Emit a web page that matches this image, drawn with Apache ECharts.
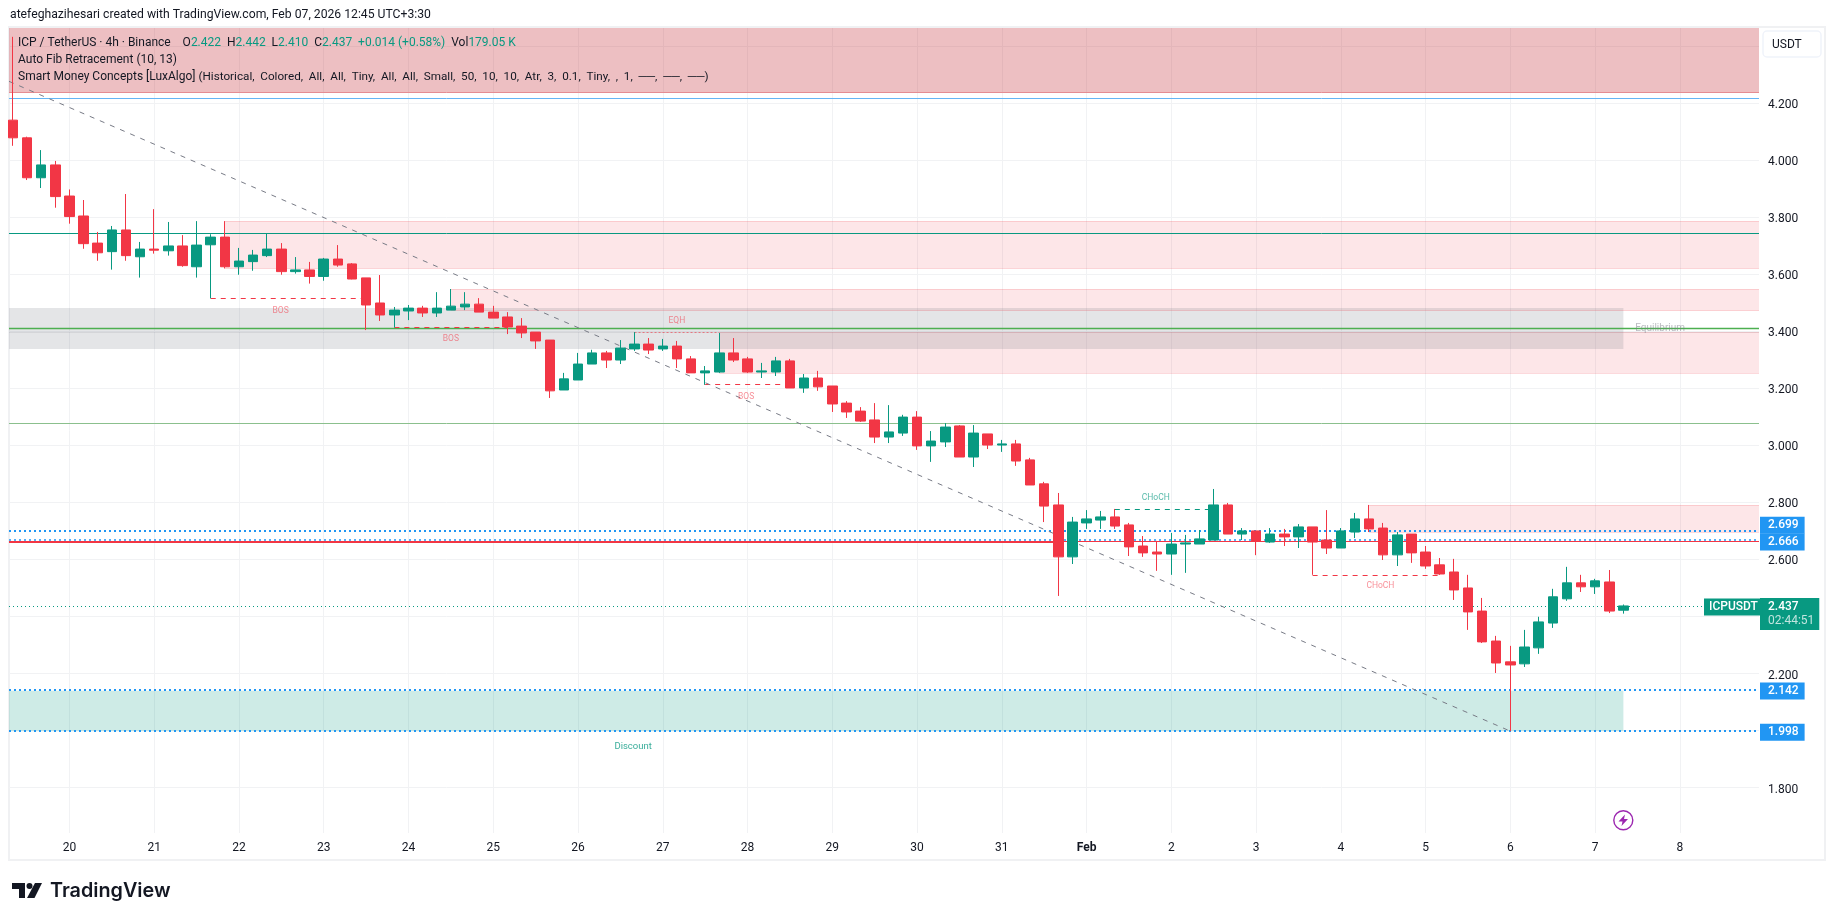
<!DOCTYPE html>
<html>

<head>
	<meta charset="UTF-8">
	<title>ICP / TetherUS</title>
	<style>
		html, body { margin: 0; padding: 0; background: #fff; }
		#chart { width: 1835px; height: 921px; }
	</style>
	<script src="https://cdn.jsdelivr.net/npm/echarts@6/dist/echarts.min.js"></script>
</head>

<body>
	<div id="chart"></div>
	<script>
		// bar index 0 is the first 4h candle of the 20th, six candles a day
		var firstBar = -4;
		var opens = [4.140,4.078,3.938,3.983,3.874,3.804,3.709,3.679,3.755,3.661,3.688,3.682,3.699,3.626,3.703,3.730,3.626,3.644,3.665,3.688,3.609,3.615,3.592,3.653,3.636,3.587,3.499,3.457,3.471,3.481,3.464,3.474,3.485,3.495,3.467,3.450,3.418,3.397,3.369,3.194,3.229,3.285,3.324,3.299,3.338,3.355,3.338,3.348,3.303,3.254,3.257,3.324,3.303,3.257,3.257,3.296,3.201,3.236,3.208,3.148,3.120,3.089,3.029,3.043,3.099,2.998,3.012,3.068,2.959,3.040,3.001,3.005,2.949,2.865,2.791,2.609,2.728,2.738,2.749,2.721,2.647,2.626,2.619,2.654,2.654,2.668,2.791,2.689,2.700,2.661,2.689,2.679,2.714,2.668,2.640,2.696,2.742,2.710,2.616,2.689,2.626,2.581,2.556,2.500,2.419,2.314,2.241,2.234,2.290,2.377,2.462,2.518,2.504,2.521,2.422];
		var highs = [4.432,4.082,4.035,3.997,3.897,3.860,3.748,3.769,3.881,3.713,3.828,3.783,3.737,3.786,3.740,3.786,3.692,3.685,3.741,3.709,3.660,3.643,3.657,3.702,3.639,3.587,3.597,3.485,3.492,3.489,3.537,3.548,3.537,3.516,3.489,3.467,3.446,3.397,3.369,3.254,3.324,3.335,3.331,3.369,3.397,3.376,3.373,3.366,3.313,3.278,3.394,3.376,3.310,3.289,3.310,3.303,3.250,3.261,3.208,3.155,3.134,3.148,3.141,3.107,3.120,3.050,3.078,3.071,3.071,3.040,3.019,3.019,2.956,2.872,2.833,2.749,2.773,2.770,2.777,2.728,2.682,2.665,2.693,2.686,2.703,2.847,2.798,2.710,2.700,2.710,2.707,2.724,2.714,2.773,2.710,2.763,2.791,2.728,2.696,2.689,2.647,2.605,2.602,2.546,2.465,2.332,2.297,2.353,2.399,2.497,2.574,2.546,2.532,2.563,2.442];
		var lows = [4.050,3.930,3.902,3.833,3.777,3.689,3.647,3.616,3.647,3.588,3.672,3.665,3.626,3.588,3.515,3.620,3.598,3.612,3.660,3.598,3.602,3.567,3.577,3.626,3.582,3.404,3.436,3.413,3.439,3.450,3.450,3.474,3.474,3.467,3.446,3.390,3.376,3.338,3.166,3.194,3.229,3.285,3.271,3.285,3.331,3.320,3.331,3.271,3.254,3.212,3.254,3.292,3.254,3.236,3.243,3.201,3.184,3.191,3.117,3.096,3.082,3.008,3.008,3.033,2.984,2.942,2.994,2.959,2.924,2.987,2.977,2.928,2.861,2.731,2.472,2.584,2.707,2.707,2.707,2.612,2.609,2.560,2.546,2.553,2.654,2.668,2.689,2.668,2.615,2.658,2.647,2.640,2.546,2.619,2.640,2.675,2.696,2.598,2.577,2.588,2.567,2.546,2.458,2.353,2.307,2.202,1.998,2.223,2.269,2.360,2.455,2.486,2.479,2.412,2.410];
		var closes = [4.078,3.938,3.983,3.872,3.802,3.707,3.675,3.755,3.665,3.688,3.684,3.699,3.630,3.702,3.730,3.626,3.646,3.667,3.688,3.609,3.615,3.592,3.653,3.632,3.583,3.492,3.457,3.474,3.481,3.464,3.481,3.488,3.495,3.467,3.446,3.415,3.394,3.366,3.191,3.233,3.285,3.324,3.299,3.341,3.355,3.334,3.348,3.303,3.254,3.261,3.324,3.299,3.257,3.261,3.296,3.201,3.236,3.205,3.145,3.117,3.085,3.029,3.047,3.099,2.998,3.015,3.064,2.959,3.043,3.001,3.005,2.945,2.861,2.787,2.609,2.731,2.742,2.749,2.717,2.644,2.623,2.619,2.654,2.658,2.672,2.791,2.689,2.700,2.665,2.689,2.679,2.714,2.661,2.640,2.700,2.742,2.707,2.616,2.686,2.623,2.577,2.549,2.493,2.416,2.311,2.237,2.230,2.293,2.381,2.469,2.518,2.504,2.525,2.419,2.437];

		var dayBars = [0,6,12,18,24,30,36,42,48,54,60,66,72,78,84,90,96,102,108,114];
		var dayLabels = ['20','21','22','23','24','25','26','27','28','29','30','31','Feb','2','3','4','5','6','7','8'];
		var priceGrid = [1.8,2.0,2.2,2.4,2.6,2.8,3.0,3.2,3.4,3.6,3.8,4.0,4.2,4.4];
		var priceLabels = [1.8,2.2,2.6,2.8,3.0,3.2,3.4,3.6,3.8,4.0,4.2];

		var barMin = -4.28;
		var barMax = 119.6;
		var priceMin = 1.641;
		var priceMax = 4.463;

		// supply and demand boxes: bar from, bar to, price top, price bottom
		var premiumBox = [barMin, barMax, priceMax, 4.237];
		var supplyBoxes = [
			[11, barMax, 3.786, 3.620],
			[27, barMax, 3.548, 3.472],
			[46, barMax, 3.396, 3.253],
			[92, barMax, 2.791, 2.695]
		];
		var equilibriumBox = [barMin, 110, 3.481, 3.338];
		var discountBox = [barMin, 110, 2.140, 1.998];

		// structure breaks: bar from, bar to, price
		var bosLines = [
			[10, 21, 3.515],
			[23, 31, 3.413],
			[45, 51, 3.214]
		];
		var chochDown = [88, 97, 2.544];
		var chochUp = [74, 81, 2.776];
		var eqhLine = [40, 46, 3.395];

		var fibHigh = 4.2165;
		var levelDark = 3.743;
		var levelMid = 3.410;
		var levelSoft = 3.077;
		var levelGrey = 3.396;
		var levelRed = 2.663;
		var levelRedLeft = [barMin, 70, 2.662];
		var tagHigh = 2.699;
		var tagRed = 2.668;
		var tagDemand = 2.142;
		var tagLow = 1.998;
		var lastPrice = 2.437;

		var trendBars = [barMin, 102];
		var trendPrices = [4.276, 1.998];

		// text marks: bar, price, text
		var bearTags = [[14.95, 3.473, 'BOS'], [27, 3.372, 'BOS'], [43, 3.437, 'EQH'], [47.9, 3.171, 'BOS'], [92.8, 2.506, 'CHoCH']];
		var bullTags = [[76.9, 2.817, 'CHoCH']];
		var discountTags = [[39.9, 1.944, 'Discount']];
		var greyTags = [[112.6, 3.410, 'Equilibrium']];

		var UP = '#089981';
		var DOWN = '#f23645';
		var BLUE = '#2196f3';
		var INK = '#131722';
		var FONT = 'Roboto';

		function box(b, style) {
			return [{ coord: [b[0], b[2]], itemStyle: style }, { coord: [b[1], b[3]] }];
		}
		function seg(x1, x2, y, style) {
			return [{ coord: [x1, y], lineStyle: style, label: { show: false } }, { coord: [x2, y] }];
		}
		function level(y, style) {
			return seg(barMin, barMax, y, style);
		}
		function tag(y, dy, width) {
			return [
				{ coord: [barMin, y], lineStyle: { color: BLUE, type: [2, 3], width: width },
					label: { show: true, position: 'end', distance: 1, offset: [0, dy], formatter: y === tagRed ? '2.666' : y.toFixed(3),
						color: '#fff', backgroundColor: BLUE, fontFamily: FONT, fontSize: 12, fontWeight: 500, padding: [3, 6, 2, 8], lineHeight: 12 } },
				{ coord: [barMax, y] }
			];
		}
		function textMarks(rows, color, size) {
			return {
				type: 'scatter', symbolSize: 0, silent: true, z: 3,
				data: rows.map(function (r) { return { value: [r[0], r[1]], name: r[2] }; }),
				label: { show: true, position: 'inside', formatter: '{b}', color: color, fontFamily: FONT, fontSize: size }
			};
		}

		var supplyStyle = { color: 'rgba(242,54,69,0.125)' };
		var supplyEdge = { color: 'rgba(242,54,69,0.16)', type: 'solid', width: 1 };
		var structure = { color: DOWN, type: [5, 5], width: 1 };

		var edgeLines = [];
		supplyBoxes.forEach(function (b) {
			edgeLines.push(seg(b[0], b[1], b[2], supplyEdge));
			edgeLines.push(seg(b[0], b[1], b[3], supplyEdge));
		});

		var mychart = echarts.init(document.getElementById('chart'));
		mychart.setOption({
			animation: false,
			backgroundColor: '#fff',
			title: [
				{ text: 'atefeghazihesari created with TradingView.com, Feb 07, 2026 12:45 UTC+3:30', left: 10, top: 9, padding: 0,
					textStyle: { color: INK, fontFamily: FONT, fontSize: 12.2, fontWeight: 'normal' } },
				{ text: 'ICP / TetherUS · 4h · Binance    O{v|2.422}  H{v|2.442}  L{v|2.410}  C{v|2.437}  {v|+0.014 (+0.58%)}  Vol{v|179.05 K}',
					left: 18, top: 37, padding: 0,
					textStyle: { color: INK, fontFamily: FONT, fontSize: 12, fontWeight: 'normal',
						rich: { v: { color: UP, fontFamily: FONT, fontSize: 12 } } } },
				{ text: 'Auto Fib Retracement (10, 13)', left: 18, top: 54, padding: 0,
					textStyle: { color: INK, fontFamily: FONT, fontSize: 12, fontWeight: 'normal' } },
				{ text: 'Smart Money Concepts [LuxAlgo] {w|(Historical,  Colored,  All,  All,  Tiny,  All,  All,  Small,  50,  10,  10,  Atr,  3,  0.1,  Tiny,  ,  1,  ──,  ──,  ──)}',
					left: 18, top: 71, padding: 0,
					textStyle: { color: INK, fontFamily: FONT, fontSize: 12, fontWeight: 'normal',
						rich: { w: { color: INK, fontFamily: FONT, fontSize: 11.7 } } } }
			],
			grid: { left: 9, right: 76, top: 28, bottom: 88, containLabel: false },
			xAxis: {
				type: 'value', min: barMin, max: barMax,
				axisLine: { show: false },
				axisTick: { show: false, customValues: dayBars },
				splitLine: { show: true, lineStyle: { color: '#f1f2f4', width: 1 } },
				axisLabel: {
					customValues: dayBars, margin: 9, color: INK, fontFamily: FONT, fontSize: 12,
					showMinLabel: true, showMaxLabel: true,
					formatter: function (v) {
						var s = dayLabels[dayBars.indexOf(v)];
						return s === 'Feb' ? '{b|Feb}' : s;
					},
					rich: { b: { fontWeight: 'bold', color: INK, fontFamily: FONT, fontSize: 12 } }
				}
			},
			yAxis: {
				type: 'value', position: 'right', min: priceMin, max: priceMax, scale: true,
				axisLine: { show: false },
				axisTick: { show: false, customValues: priceGrid },
				splitLine: { show: true, lineStyle: { color: '#f1f2f4', width: 1 } },
				axisLabel: {
					customValues: priceLabels, margin: 9, color: INK, fontFamily: FONT, fontSize: 12,
					formatter: function (v) { return '{p|' + v.toFixed(3) + '}'; },
					rich: { p: { color: INK, fontFamily: FONT, fontSize: 12, padding: [4, 0, 0, 0] } }
				}
			},
			series: [
				{
					name: 'Auto Fib', type: 'line', z: 1, symbol: 'none', silent: true,
					data: trendBars.map(function (b, i) { return [b, trendPrices[i]]; }),
					lineStyle: { color: '#787b86', type: [5, 6], width: 1 },
					markArea: {
						silent: true,
						data: [
							box(premiumBox, { color: 'rgba(200,61,70,0.33)' }),
							box(supplyBoxes[0], supplyStyle),
							box(supplyBoxes[1], supplyStyle),
							box(supplyBoxes[2], supplyStyle),
							box(supplyBoxes[3], supplyStyle),
							box(equilibriumBox, { color: 'rgba(120,123,134,0.2)' }),
							box(discountBox, { color: 'rgba(8,153,129,0.2)' })
						]
					},
					markLine: {
						silent: true, z: 1, symbol: 'none', animation: false,
						label: { show: false },
						data: edgeLines.concat([
							level(premiumBox[3], { color: '#e58d92', type: 'solid', width: 1 }),
							level(fibHigh, { color: '#64b5f6', type: 'solid', width: 1 }),
							level(levelDark, { color: UP, type: 'solid', width: 1 }),
							level(levelMid, { color: '#4caf50', type: 'solid', width: 1.3 }),
							level(levelSoft, { color: '#8bc08d', type: 'solid', width: 1 }),
							level(levelGrey, { color: 'rgba(120,123,134,0.15)', type: 'solid', width: 1 }),
							level(levelRed, { color: DOWN, type: 'solid', width: 1 }),
							seg(levelRedLeft[0], levelRedLeft[1], levelRedLeft[2], { color: DOWN, type: 'solid', width: 2 }),
							seg(bosLines[0][0], bosLines[0][1], bosLines[0][2], structure),
							seg(bosLines[1][0], bosLines[1][1], bosLines[1][2], structure),
							seg(bosLines[2][0], bosLines[2][1], bosLines[2][2], structure),
							seg(chochDown[0], chochDown[1], chochDown[2], structure),
							seg(chochUp[0], chochUp[1], chochUp[2], { color: UP, type: [5, 5], width: 1 }),
							seg(eqhLine[0], eqhLine[1], eqhLine[2], { color: 'rgba(242,54,69,0.6)', type: [2, 2], width: 1 }),
							tag(tagHigh, -6, 2),
							tag(tagRed, 2, 1.5),
							tag(tagDemand, 1, 2),
							tag(tagLow, 1, 2),
							[
								{ coord: [barMin, lastPrice], lineStyle: { color: UP, type: [1, 3], width: 1 },
									label: { show: true, position: 'end', distance: 1, offset: [0, 8],
										formatter: '{a|' + lastPrice.toFixed(3) + '}\n{c|02:44:51}',
										backgroundColor: UP, padding: [2, 5, 1, 8],
										rich: {
											a: { color: '#fff', fontFamily: FONT, fontSize: 12, fontWeight: 500, lineHeight: 14 },
											c: { color: 'rgba(255,255,255,0.75)', fontFamily: FONT, fontSize: 12, lineHeight: 15 }
										} } },
								{ coord: [barMax, lastPrice] }
							],
							[
								{ coord: [barMin, lastPrice], lineStyle: { color: 'rgba(0,0,0,0)', width: 0 },
									label: { show: true, position: 'end', distance: 1, offset: [-56, 1],
										formatter: 'ICPUSDT', color: '#fff', backgroundColor: UP, fontFamily: FONT, fontSize: 12, fontWeight: 500,
										padding: [3, 5, 2, 5], lineHeight: 12 } },
								{ coord: [barMax, lastPrice] }
							]
						])
					}
				},
				{
					name: 'ICPUSDT', type: 'candlestick', z: 2, barWidth: 10,
					data: opens.map(function (o, i) { return [firstBar + i, o, closes[i], lows[i], highs[i]]; }),
					itemStyle: { color: UP, color0: DOWN, borderColor: UP, borderColor0: DOWN, borderWidth: 1 }
				},
				textMarks(bearTags, 'rgba(242,54,69,0.7)', 8.5),
				textMarks(bullTags, 'rgba(8,153,129,0.85)', 8.5),
				textMarks(discountTags, UP, 9.5),
				textMarks(greyTags, 'rgba(120,123,134,0.65)', 10)
			],
			graphic: [
				{ type: 'rect', silent: true, z: -1, shape: { x: 9, y: 27, width: 1816, height: 833 },
					style: { fill: 'none', stroke: '#f0f1f3', lineWidth: 2 } },
				{ type: 'rect', silent: true, shape: { x: 1763, y: 31, width: 58, height: 26, r: 4 },
					style: { fill: '#fff', stroke: '#f0f3fa', lineWidth: 1.5 } },
				{ type: 'text', silent: true, style: { x: 1772, y: 39, text: 'USDT', fill: INK, font: '12px ' + FONT } },
				// lightning badge
				{ type: 'circle', silent: true, shape: { cx: 1623.3, cy: 820.3, r: 9.5 },
					style: { fill: '#fff', stroke: '#9c27b0', lineWidth: 1.4 } },
				{ type: 'polygon', silent: true, shape: { points: [[1625, 814.5], [1618.5, 821.5], [1622.5, 821.5], [1621.5, 826], [1628, 819], [1624, 819]] },
					style: { fill: '#9c27b0' } },
				// logo
				{ type: 'polygon', silent: true, shape: { points: [[12, 883], [25, 883], [25, 898], [19, 898], [19, 889], [12, 889]] },
					style: { fill: INK } },
				{ type: 'circle', silent: true, shape: { cx: 29.5, cy: 886, r: 3 }, style: { fill: INK } },
				{ type: 'polygon', silent: true, shape: { points: [[35, 883], [42, 883], [34.5, 898], [27, 898]] },
					style: { fill: INK } },
				{ type: 'text', silent: true, style: { x: 50, y: 881, text: 'TradingView', fill: INK, font: '600 19.8px Inter' } }
			]
		});
	</script>
</body>

</html>
